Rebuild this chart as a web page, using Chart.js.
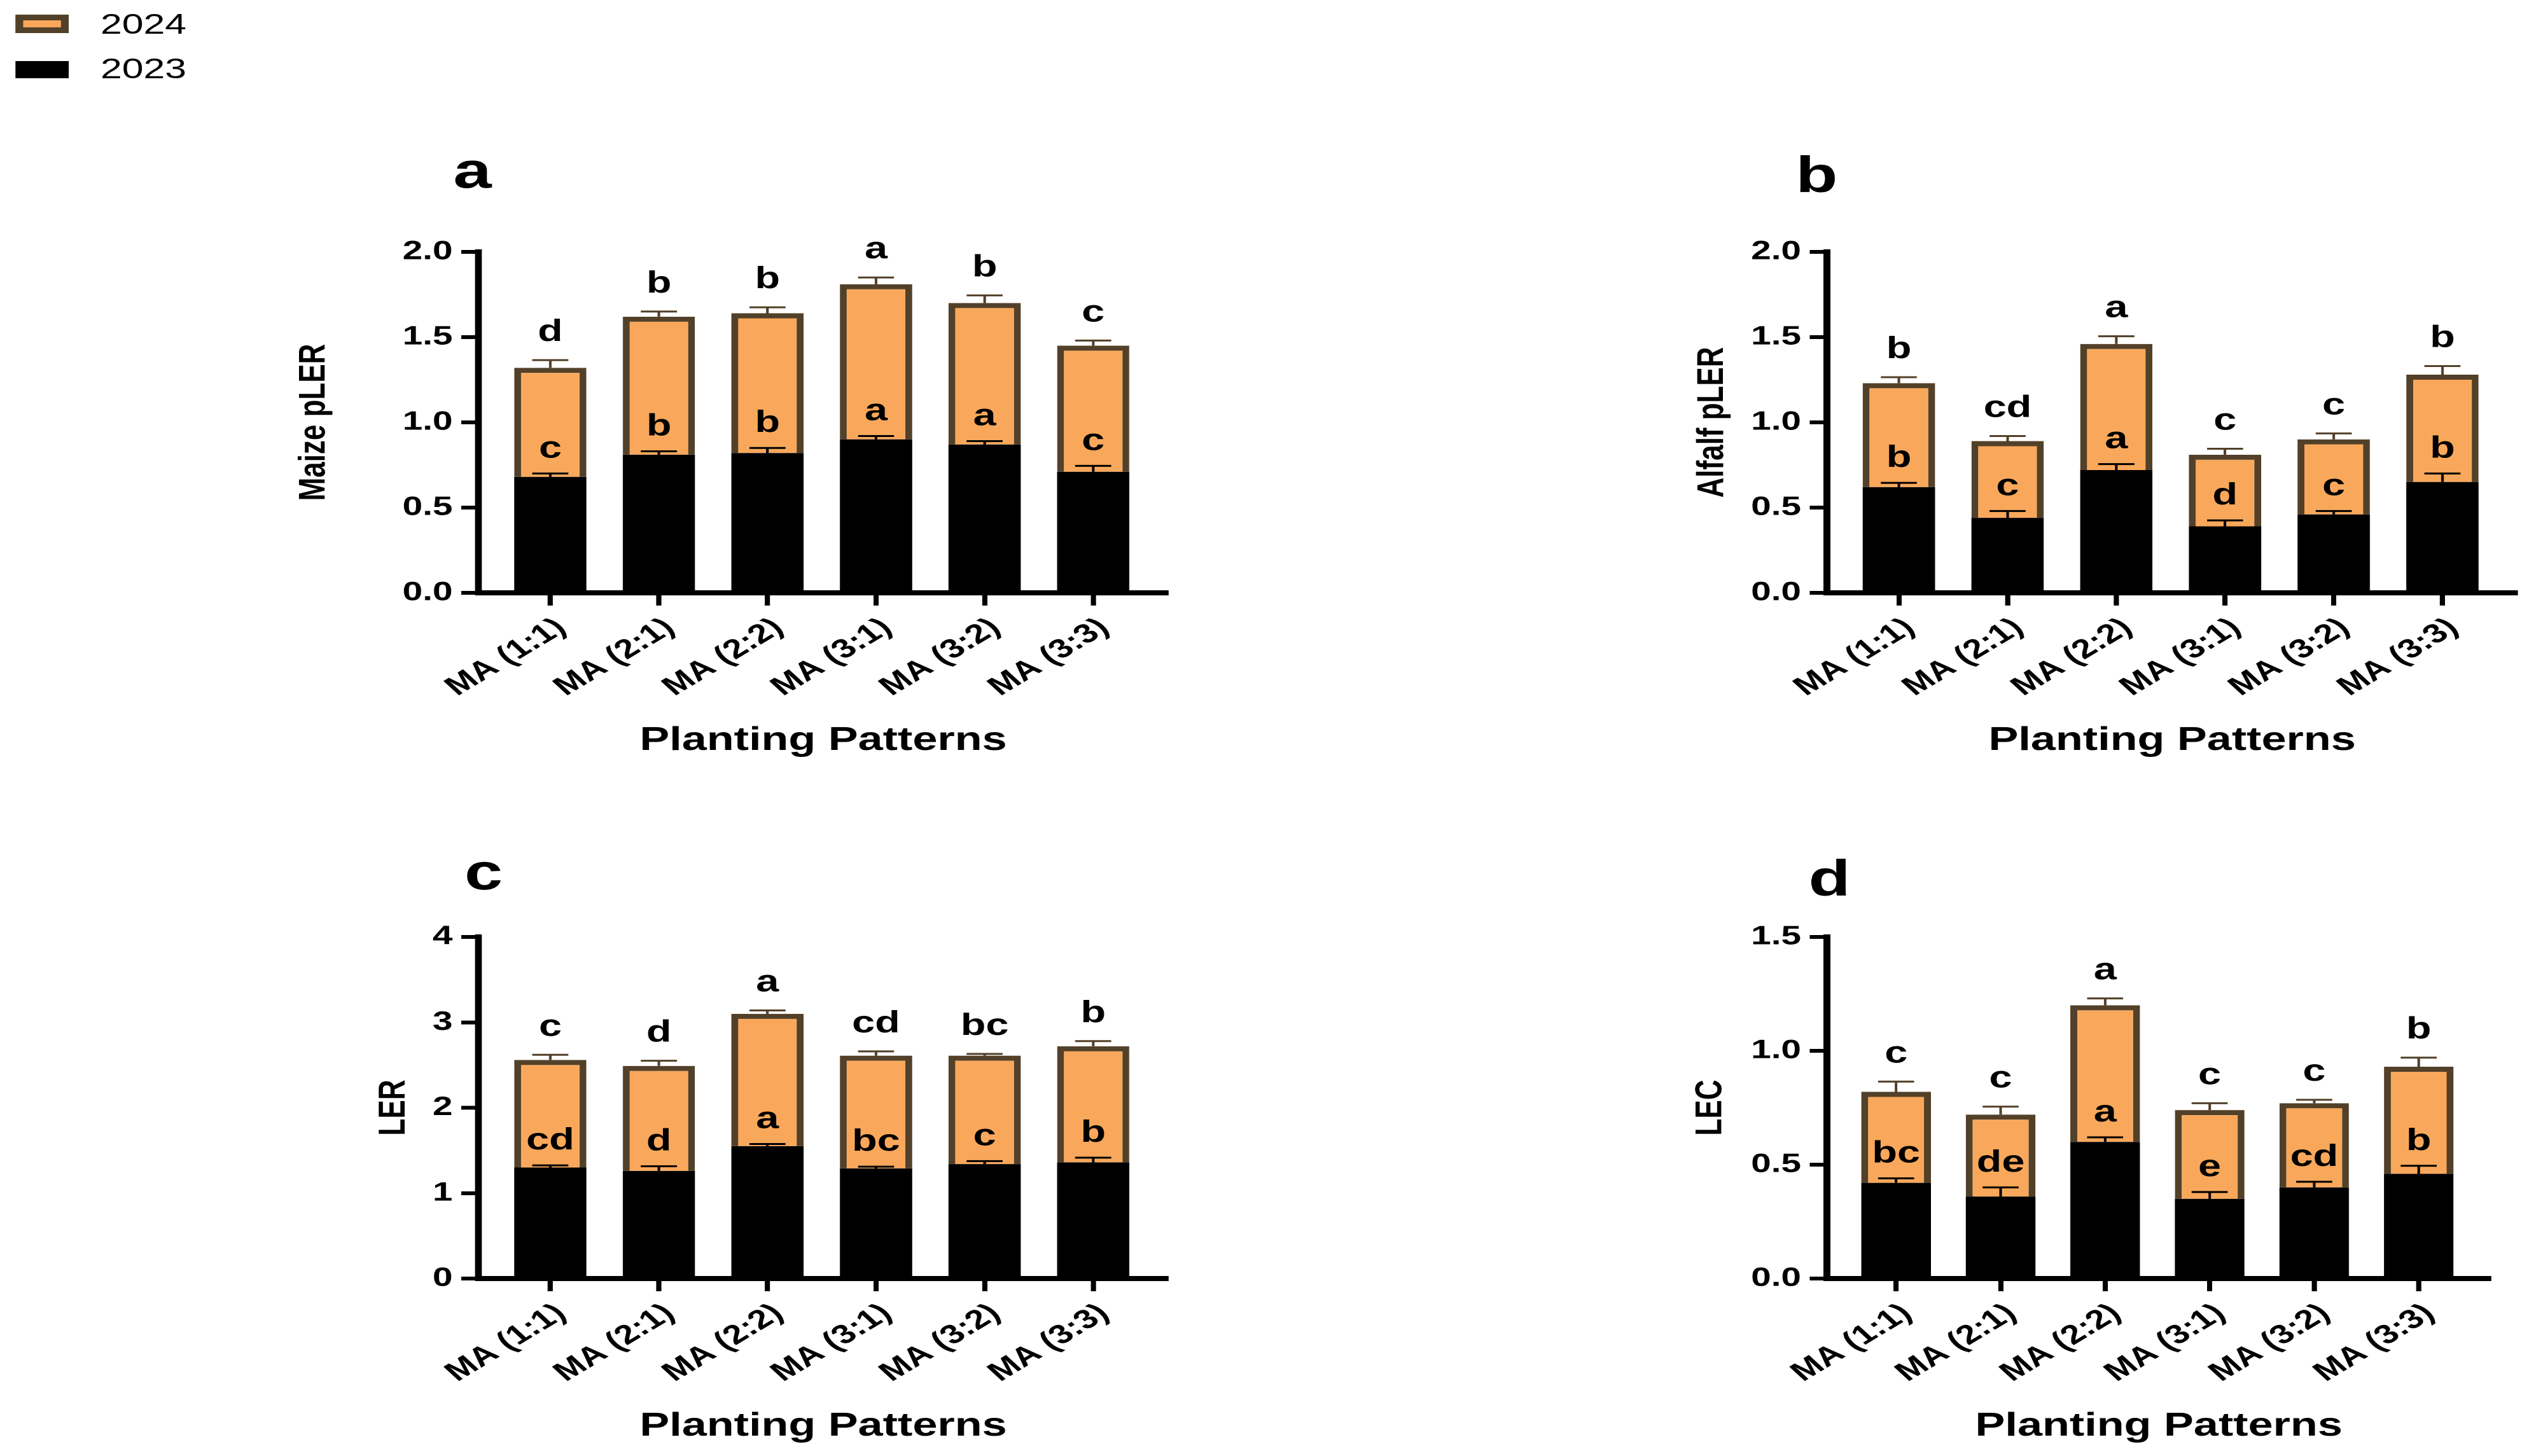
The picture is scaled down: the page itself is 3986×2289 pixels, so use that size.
<!DOCTYPE html>
<html>
<head>
<meta charset="utf-8">
<script src="https://cdn.jsdelivr.net/npm/chart.js@4.4.1/dist/chart.umd.min.js"></script>
<style>
html, body { margin: 0; padding: 0; background: #fff; overflow: hidden; }
#fig {
    position: absolute; left: 0; top: 0;
    width: 2953px; height: 2289px;
    transform: scaleX(1.35); transform-origin: 0 0;
    font-family: "Liberation Sans", Arial, sans-serif;
}
#fig canvas { position: absolute; }
.key { position: absolute; left: 18px; width: 62px; box-sizing: border-box; }
.lbl { position: absolute; left: 117px; font-size: 45px; line-height: 45px; color: #000; }
</style>
</head>
<body>
<div id="fig">
    <div class="key" style="top:23px;height:29px;background:#f9a85b;border:9px solid #524029;"></div>
    <div class="lbl" style="top:15px;">2024</div>
    <div class="key" style="top:96px;height:27px;background:#000;"></div>
    <div class="lbl" style="top:85px;">2023</div>

    <canvas id="panelA" width="1160" height="1070" style="left:300px;top:180px;"></canvas>
    <canvas id="panelB" width="1050" height="1070" style="left:1900px;top:180px;"></canvas>
    <canvas id="panelC" width="1160" height="1039" style="left:300px;top:1250px;"></canvas>
    <canvas id="panelD" width="1050" height="1039" style="left:1900px;top:1250px;"></canvas>
</div>
<script>
const categories = ["MA (1:1)", "MA (2:1)", "MA (2:2)", "MA (3:1)", "MA (3:2)", "MA (3:3)"];

// a - Maize pLER
const maize2023 = [0.68, 0.81, 0.82, 0.90, 0.87, 0.71];
const maize2023Err = [0.02, 0.02, 0.03, 0.02, 0.02, 0.035];
const maize2024 = [0.64, 0.81, 0.82, 0.91, 0.83, 0.74];
const maize2024Err = [0.045, 0.03, 0.035, 0.04, 0.045, 0.03];
const maizeLetters2023 = ["c", "b", "b", "a", "a", "c"];
const maizeLetters2024 = ["d", "b", "b", "a", "b", "c"];

// b - Alfalfa pLER
const alfalfa2023 = [0.62, 0.44, 0.72, 0.39, 0.46, 0.65];
const alfalfa2023Err = [0.025, 0.04, 0.035, 0.035, 0.02, 0.05];
const alfalfa2024 = [0.61, 0.45, 0.74, 0.42, 0.44, 0.63];
const alfalfa2024Err = [0.035, 0.03, 0.045, 0.035, 0.035, 0.05];
const alfalfaLetters2023 = ["b", "c", "a", "d", "c", "b"];
const alfalfaLetters2024 = ["b", "cd", "a", "c", "c", "b"];

// c - LER
const ler2023 = [1.30, 1.26, 1.55, 1.29, 1.34, 1.36];
const ler2023Err = [0.025, 0.055, 0.025, 0.02, 0.035, 0.055];
const ler2024 = [1.26, 1.23, 1.55, 1.32, 1.27, 1.36];
const ler2024Err = [0.06, 0.06, 0.04, 0.05, 0.02, 0.06];
const lerLetters2023 = ["cd", "d", "a", "bc", "c", "b"];
const lerLetters2024 = ["c", "d", "a", "cd", "bc", "b"];

// d - LEC
const lec2023 = [0.42, 0.36, 0.60, 0.35, 0.40, 0.46];
const lec2023Err = [0.02, 0.04, 0.02, 0.03, 0.025, 0.035];
const lec2024 = [0.40, 0.36, 0.60, 0.39, 0.37, 0.47];
const lec2024Err = [0.045, 0.035, 0.03, 0.03, 0.015, 0.04];
const lecLetters2023 = ["bc", "de", "a", "e", "cd", "b"];
const lecLetters2024 = ["c", "c", "a", "c", "c", "b"];

const FONT = "'Liberation Sans', Arial, sans-serif";
const ORANGE = "#f9a85b";
const BROWN = "#524029";

Chart.defaults.font.family = FONT;
Chart.defaults.color = "#000";

// error bars, significance letters and the panel tag
const extras = {
    id: "extras",
    afterDatasetsDraw(chart, args, opts) {
        const { ctx, chartArea } = chart;
        const y = chart.scales.y;
        ctx.save();
        chart.data.datasets.forEach((ds, i) => {
            const meta = chart.getDatasetMeta(i);
            meta.data.forEach((bar, j) => {
                const errPx = y.getPixelForValue(0) - y.getPixelForValue(ds.errors[j]);
                const top = bar.y - errPx;
                ctx.strokeStyle = ds.errorColor;
                ctx.lineWidth = 3;
                ctx.beginPath();
                ctx.moveTo(bar.x, bar.y);
                ctx.lineTo(bar.x, top);
                ctx.moveTo(bar.x - 21, top);
                ctx.lineTo(bar.x + 21, top);
                ctx.stroke();

                ctx.fillStyle = "#000";
                ctx.font = "bold 48px " + FONT;
                ctx.textAlign = "center";
                ctx.textBaseline = "alphabetic";
                ctx.fillText(ds.letters[j], bar.x, top - ds.letterGap);
            });
        });
        ctx.font = "bold 80px " + FONT;
        ctx.textAlign = "center";
        ctx.fillStyle = "#000";
        ctx.fillText(opts.tag, chartArea.left + opts.dx, chartArea.top + opts.dy);
        ctx.restore();
    }
};

function points(values) {
    return values.map((v, i) => ({ x: i, y: v }));
}

function axisLines() {
    return {
        grid: {
            offset: false,
            drawOnChartArea: false,
            drawTicks: true,
            tickLength: 20,
            tickWidth: 6,
            tickColor: "#000"
        },
        border: { display: true, width: 8, color: "#000" }
    };
}

function renderPanel(id, p) {
    new Chart(document.getElementById(id), {
        type: "bar",
        data: {
            datasets: [{
                label: "2023",
                data: points(p.v2023),
                errors: p.e2023,
                letters: p.l2023,
                letterGap: 25,
                errorColor: "#000",
                backgroundColor: "#000",
                borderWidth: 0
            }, {
                label: "2024",
                data: points(p.v2024),
                errors: p.e2024,
                letters: p.l2024,
                letterGap: 30,
                errorColor: BROWN,
                backgroundColor: ORANGE,
                borderColor: BROWN,
                borderWidth: 8
            }]
        },
        options: {
            responsive: false,
            animation: false,
            devicePixelRatio: 2,
            layout: { padding: p.pad },
            datasets: { bar: { categoryPercentage: 1, barPercentage: 0.665 } },
            plugins: {
                legend: { display: false },
                tooltip: { enabled: false },
                extras: p.tag
            },
            scales: {
                x: Object.assign(axisLines(), {
                    type: "linear",
                    stacked: true,
                    offset: false,
                    min: -0.662,
                    max: 5.69,
                    afterFit: s => { s.height = 264; },
                    ticks: {
                        stepSize: 1,
                        includeBounds: false,
                        autoSkip: false,
                        minRotation: 39,
                        maxRotation: 39,
                        padding: 10,
                        labelOffset: 13,
                        color: "#000",
                        font: { size: 42, weight: "bold" },
                        callback: v => categories[v]
                    },
                    title: {
                        display: true,
                        text: "Planting Patterns",
                        color: "#000",
                        padding: 0,
                        font: { size: 52, weight: "bold" }
                    }
                }),
                y: Object.assign(axisLines(), {
                    stacked: true,
                    min: 0,
                    max: p.max,
                    afterFit: s => { s.width = p.yWidth; },
                    ticks: {
                        stepSize: p.step,
                        padding: 10,
                        color: "#000",
                        font: { size: 42, weight: "bold" },
                        callback: v => v.toFixed(p.dec)
                    },
                    title: {
                        display: true,
                        text: p.yTitle,
                        color: "#000",
                        padding: 0,
                        font: { size: 44, weight: "bold" }
                    }
                })
            }
        },
        plugins: [extras]
    });
}

renderPanel("panelA", {
    v2023: maize2023, e2023: maize2023Err, l2023: maizeLetters2023,
    v2024: maize2024, e2024: maize2024Err, l2024: maizeLetters2024,
    yTitle: "Maize pLER", max: 2, step: 0.5, dec: 1,
    pad: { left: 39.6, top: 216, right: 100, bottom: 54 }, yWidth: 217.4,
    tag: { tag: "a", dx: -7, dy: -101 }
});
renderPanel("panelB", {
    v2023: alfalfa2023, e2023: alfalfa2023Err, l2023: alfalfaLetters2023,
    v2024: alfalfa2024, e2024: alfalfa2024Err, l2024: alfalfaLetters2024,
    yTitle: "Alfalf pLER", max: 2, step: 0.5, dec: 1,
    pad: { left: 67.6, top: 216, right: 19, bottom: 54 }, yWidth: 159.4,
    tag: { tag: "b", dx: -12, dy: -94 }
});
renderPanel("panelC", {
    v2023: ler2023, e2023: ler2023Err, l2023: lerLetters2023,
    v2024: ler2024, e2024: ler2024Err, l2024: lerLetters2024,
    yTitle: "LER", max: 4, step: 1, dec: 0,
    pad: { left: 132.6, top: 223, right: 100, bottom: 15 }, yWidth: 124.4,
    tag: { tag: "c", dx: 6, dy: -75 }
});
renderPanel("panelD", {
    v2023: lec2023, e2023: lec2023Err, l2023: lecLetters2023,
    v2024: lec2024, e2024: lec2024Err, l2024: lecLetters2024,
    yTitle: "LEC", max: 1.5, step: 0.5, dec: 1,
    pad: { left: 65.6, top: 223, right: 50, bottom: 15 }, yWidth: 161.4,
    tag: { tag: "d", dx: 3, dy: -65 }
});
</script>
</body>
</html>
